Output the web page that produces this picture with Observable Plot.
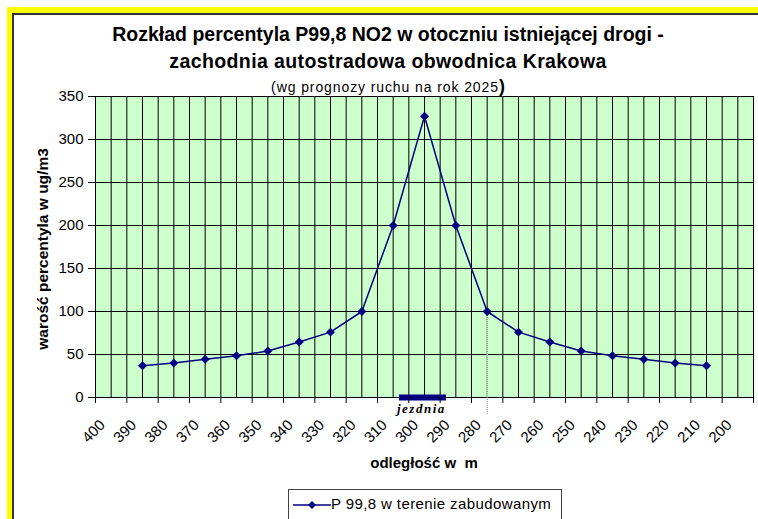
<!DOCTYPE html>
<html>
<head>
<meta charset="utf-8">
<script src="https://cdn.jsdelivr.net/npm/d3@7"></script>
<script src="https://cdn.jsdelivr.net/npm/@observablehq/plot@0.6"></script>
<style>
  html, body { margin: 0; padding: 0; background: #fff; overflow: hidden; }
  #wrap { position: relative; width: 758px; height: 519px; overflow: hidden; font-family: "Liberation Sans", Arial, sans-serif; color: #000; }
  .abs { position: absolute; white-space: pre; }
  #yellow { left: 7px; top: 7px; width: 800px; height: 600px; border-left: 5px solid #FFFF00; border-top: 6px solid #FFFF00; }
  #dark { left: 12px; top: 13px; width: 800px; height: 600px; border-left: 2px solid #333; border-top: 2px solid #333; }
  .title { left: 0; width: 776px; text-align: center; font-weight: bold; font-size: 19.5px; line-height: 24px; }
  #sub { left: 0; width: 776px; text-align: center; font-size: 14px; letter-spacing: 0.9px; top: 76px; line-height: 20px; }
  #ylab { left: 42.5px; top: 249px; transform: translate(-50%, -50%) rotate(-90deg); font-weight: bold; font-size: 15.5px; }
  #xlab { left: 424px; top: 462px; transform: translate(-50%, -50%); font-weight: bold; font-size: 15px; }
  #legend { left: 288px; top: 489px; width: 272px; height: 29px; border: 1px solid #444; background: #fff; }
  #legend span { position: absolute; left: 42px; top: 5px; font-size: 15px; letter-spacing: 0.4px; }
  #chart { position: absolute; left: 0; top: 0; }
</style>
</head>
<body>
<div id="wrap">
  <div class="abs" id="yellow"></div>
  <div class="abs" id="dark"></div>
  <div id="chart"></div>
  <div class="abs title" id="t1" style="top:22px">Rozkład percentyla P99,8 NO2 w otoczniu istniejącej drogi -</div>
  <div class="abs title" id="t2" style="top:49px; letter-spacing:0.4px">zachodnia autostradowa obwodnica Krakowa</div>
  <div class="abs" id="sub">(wg prognozy ruchu na rok 2025<b style="font-size:18px;letter-spacing:0">)</b></div>
  <div class="abs" id="ylab">warość percentyla w ug/m3</div>
  <div class="abs" id="xlab">odległość w  m</div>
  <div class="abs" id="legend">
    <svg width="40" height="29" style="position:absolute;left:4px;top:0">
      <line x1="0" x2="38" y1="15" y2="15" stroke="#000080" stroke-width="1.5"></line>
      <path d="M19,11 L23,15 L19,19 L15,15 Z" fill="#000080"></path>
    </svg>
    <span>P 99,8 w terenie zabudowanym</span>
  </div>
</div>
<script>
// data
const distance = [385, 375, 365, 355, 345, 335, 325, 315, 305, 295, 285, 275, 265, 255, 245, 235, 225, 215, 205];
const p998 = [37, 40, 44.5, 48.5, 54, 64.5, 76, 100, 200, 327, 200, 100, 76, 64.5, 54, 48.5, 44.5, 40, 37];
const xTickLabels = [400, 390, 380, 370, 360, 350, 340, 330, 320, 310, 300, 290, 280, 270, 260, 250, 240, 230, 220, 210, 200];
const yTickLabels = [0, 50, 100, 150, 200, 250, 300, 350];
const roadway = [303, 288];       // "jezdnia" extent
const roadwayLabel = ["jezdnia"];
const markerDistance = [275];
const markerValue = 100;

const data = distance.map((d, i) => ({distance: d, value: p998[i]}));
const xTickMarks = [...xTickLabels, 190];
const gridX = d3.range(190, 401, 5);
const navy = "#000080";

const chart = Plot.plot({
  width: 758,
  height: 519,
  marginLeft: 95,
  marginRight: 5,
  marginTop: 96,
  marginBottom: 122,
  x: {domain: [400, 190]},
  y: {domain: [0, 350]},
  style: {background: "transparent", fontFamily: "Liberation Sans, Arial, sans-serif", fontSize: "15px", color: "#000", overflow: "visible"},
  marks: [
    Plot.frame({fill: "#CCFFCC", stroke: null}),
    Plot.ruleX(gridX, {stroke: "#000", strokeWidth: 1}),
    Plot.ruleY(yTickLabels, {stroke: "#000", strokeWidth: 1}),
    Plot.ruleX(markerDistance, {y1: 0, y2: markerValue, stroke: "#CCFFCC", strokeWidth: 1.5}),
    Plot.ruleX(markerDistance, {y1: markerValue, y2: -20, stroke: "#777", strokeWidth: 1, strokeDasharray: "1,1", clip: false}),
    Plot.line(data, {x: "distance", y: "value", stroke: navy, strokeWidth: 1.5}),
    Plot.dot(data, {x: "distance", y: "value", symbol: "diamond2", r: 3.8, fill: navy, stroke: navy, strokeWidth: 0.5}),
    Plot.ruleY([0], {x1: roadway[0], x2: roadway[1], stroke: navy, strokeWidth: 6}),
    Plot.text(roadwayLabel, {x: (roadway[0] + roadway[1]) / 2 + 0.5, y: 0, dy: 11, text: d => d, fontFamily: "Liberation Serif, Times New Roman, serif", fontStyle: "italic", fontWeight: "bold", fontSize: 13, fill: "#000"}),
    Plot.axisY({ticks: yTickLabels, tickSize: 7, tickPadding: 5, label: null, fontSize: 15}),
    Plot.axisX({ticks: xTickMarks, tickSize: 6, label: null, tickFormat: () => ""}),
    Plot.axisX({ticks: xTickLabels, tickSize: 0, tickPadding: 24, dx: 7, dy: 1, tickRotate: -45, label: null, fontSize: 15})
  ]
});
document.getElementById("chart").appendChild(chart);
d3.select(chart).selectAll("text").filter(function() { return this.textContent === "jezdnia"; }).style("letter-spacing", "1.5px");
</script>
</body>
</html>
